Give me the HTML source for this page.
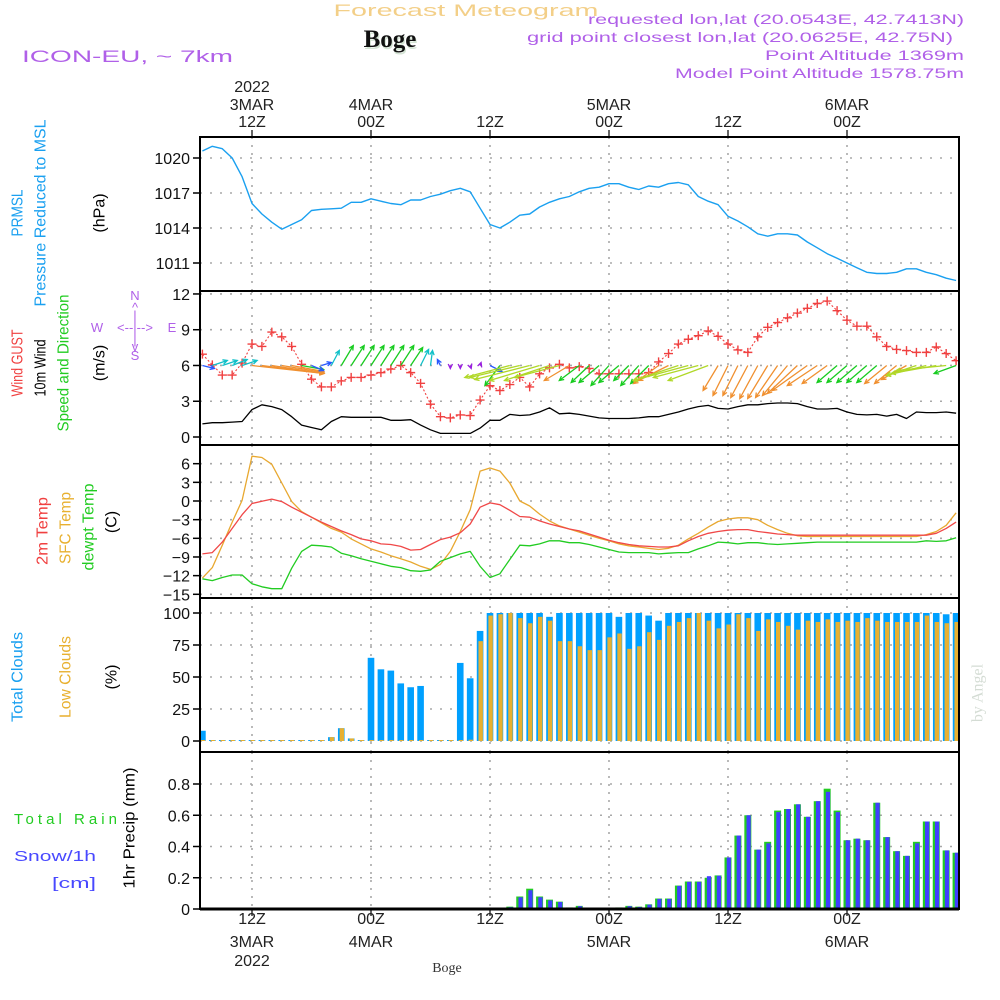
<!DOCTYPE html>
<html><head><meta charset="utf-8"><title>Meteogram Boge</title>
<style>
html,body{margin:0;padding:0;background:#fff;}
svg{display:block;font-family:"Liberation Sans",sans-serif;}
</style></head>
<body>
<svg id="chart" xmlns="http://www.w3.org/2000/svg" width="1000" height="1000" viewBox="0 0 1000 1000">
<rect x="0" y="0" width="1000" height="1000" fill="#fff"/>
<g id="grid"></g>
<g id="marks"></g>
<g id="frames"></g>
<g id="labels">
<text x="466" y="16" fill="#f3cf88" font-size="17" text-anchor="middle" textLength="265" lengthAdjust="spacingAndGlyphs">Forecast Meteogram</text>
<text x="391" y="49" fill="#d4e4d4" font-size="25" font-weight="bold" font-family="Liberation Serif, serif" text-anchor="middle">Boge</text>
<text x="390" y="47" fill="#111" font-size="25" font-weight="bold" font-family="Liberation Serif, serif" text-anchor="middle">Boge</text>
<text x="964" y="24" fill="#b060e8" font-size="14" text-anchor="end" textLength="376" lengthAdjust="spacingAndGlyphs">requested lon,lat (20.0543E, 42.7413N)</text>
<text x="953" y="42" fill="#b060e8" font-size="14" text-anchor="end" textLength="426" lengthAdjust="spacingAndGlyphs">grid point closest lon,lat (20.0625E, 42.75N)</text>
<text x="964" y="60" fill="#b060e8" font-size="14" text-anchor="end" textLength="199" lengthAdjust="spacingAndGlyphs">Point Altitude 1369m</text>
<text x="964" y="78" fill="#b060e8" font-size="14" text-anchor="end" textLength="289" lengthAdjust="spacingAndGlyphs">Model Point Altitude 1578.75m</text>
<text x="22" y="62" fill="#b060e8" font-size="17" textLength="211" lengthAdjust="spacingAndGlyphs">ICON-EU, ~ 7km</text>

<text transform="translate(18,213) rotate(-90)" fill="#1aa0f0" font-size="16" text-anchor="middle" dominant-baseline="central" textLength="47" lengthAdjust="spacingAndGlyphs">PRMSL</text>
<text transform="translate(41,213) rotate(-90)" fill="#1aa0f0" font-size="16" text-anchor="middle" dominant-baseline="central" textLength="187" lengthAdjust="spacingAndGlyphs">Pressure Reduced to MSL</text>
<text transform="translate(100,213) rotate(-90)" fill="#000" font-size="16" text-anchor="middle" dominant-baseline="central">(hPa)</text>

<text transform="translate(18,363) rotate(-90)" fill="#f04040" font-size="16" text-anchor="middle" dominant-baseline="central" textLength="67" lengthAdjust="spacingAndGlyphs">Wind GUST</text>
<text transform="translate(41,368) rotate(-90)" fill="#000" font-size="16" text-anchor="middle" dominant-baseline="central" textLength="57" lengthAdjust="spacingAndGlyphs">10m Wind</text>
<text transform="translate(64,363) rotate(-90)" fill="#22cc22" font-size="16" text-anchor="middle" dominant-baseline="central" textLength="137" lengthAdjust="spacingAndGlyphs">Speed and Direction</text>
<text transform="translate(100,363) rotate(-90)" fill="#000" font-size="16" text-anchor="middle" dominant-baseline="central">(m/s)</text>
<g fill="#b060e8" font-size="13" text-anchor="middle">
<text x="135" y="300">N</text><text x="135" y="312">^</text><text x="135" y="320">|</text>
<text x="97" y="332">W</text><text x="135" y="332">&lt;--|--&gt;</text><text x="172" y="332">E</text>
<text x="135" y="344">|</text><text x="135" y="351">v</text><text x="135" y="360">S</text>
</g>

<text transform="translate(43,531) rotate(-90)" fill="#f04040" font-size="16" text-anchor="middle" dominant-baseline="central" textLength="68" lengthAdjust="spacingAndGlyphs">2m Temp</text>
<text transform="translate(66,528) rotate(-90)" fill="#e8b030" font-size="16" text-anchor="middle" dominant-baseline="central" textLength="72" lengthAdjust="spacingAndGlyphs">SFC Temp</text>
<text transform="translate(89,527) rotate(-90)" fill="#22cc22" font-size="16" text-anchor="middle" dominant-baseline="central" textLength="87" lengthAdjust="spacingAndGlyphs">dewpt Temp</text>
<text transform="translate(112,522) rotate(-90)" fill="#000" font-size="16" text-anchor="middle" dominant-baseline="central">(C)</text>

<text transform="translate(18,677) rotate(-90)" fill="#1aa0f0" font-size="16" text-anchor="middle" dominant-baseline="central" textLength="90" lengthAdjust="spacingAndGlyphs">Total Clouds</text>
<text transform="translate(66,677) rotate(-90)" fill="#e8b030" font-size="16" text-anchor="middle" dominant-baseline="central" textLength="82" lengthAdjust="spacingAndGlyphs">Low Clouds</text>
<text transform="translate(112,677) rotate(-90)" fill="#000" font-size="16" text-anchor="middle" dominant-baseline="central">(%)</text>

<text x="14" y="824" fill="#22cc22" font-size="15" textLength="103" lengthAdjust="spacing">Total   Rain</text>
<text x="14" y="861" fill="#4848ff" font-size="15" textLength="82" lengthAdjust="spacingAndGlyphs">Snow/1h</text>
<text x="52" y="888" fill="#4848ff" font-size="15" textLength="44" lengthAdjust="spacingAndGlyphs">[cm]</text>
<text transform="translate(130,828) rotate(-90)" fill="#000" font-size="16" text-anchor="middle" dominant-baseline="central" textLength="121" lengthAdjust="spacingAndGlyphs">1hr Precip (mm)</text>

<text x="447" y="972" fill="#333" font-size="14" font-family="Liberation Serif, serif" text-anchor="middle">Boge</text>
<text transform="translate(978,693) rotate(-90)" fill="#d4dcd4" font-size="16" font-family="Liberation Serif, serif" text-anchor="middle" dominant-baseline="central">by Angel</text>
</g>
</svg>
<script>
const startHour = 7;
const pressure = [
1020.6,1021.0,1020.8,1020.0,1018.4,1016.1,1015.2,1014.5,1013.9,1014.3,
1014.7,1015.5,1015.6,1015.65,1015.7,1016.2,1016.2,1016.5,1016.3,1016.1,
1016.0,1016.4,1016.4,1016.7,1016.9,1017.2,1017.4,1017.1,1015.7,1014.3,
1014.0,1014.5,1015.1,1015.2,1015.8,1016.2,1016.5,1016.7,1017.1,1017.4,
1017.5,1017.8,1017.8,1017.5,1017.3,1017.6,1017.5,1017.8,1017.9,1017.7,
1016.7,1016.3,1016.0,1015.0,1014.6,1014.1,1013.5,1013.3,1013.5,1013.5,
1013.4,1012.8,1012.3,1011.8,1011.4,1011.0,1010.6,1010.2,1010.1,1010.1,
1010.2,1010.5,1010.5,1010.2,1010.0,1009.7,1009.5];
const wind10m = [
1.1,1.2,1.2,1.25,1.3,2.3,2.7,2.55,2.3,1.7,
1.0,0.8,0.6,1.3,1.7,1.65,1.65,1.65,1.65,1.4,
1.4,1.45,1.0,0.6,0.3,0.3,0.3,0.3,0.75,1.4,
1.4,1.9,1.8,1.85,2.1,2.45,1.95,2.0,1.9,1.75,
1.6,1.55,1.55,1.55,1.6,1.7,1.7,1.9,2.1,2.35,
2.55,2.65,2.4,2.35,2.55,2.7,2.7,2.8,2.85,2.85,
2.8,2.55,2.35,2.35,2.4,2.1,1.9,1.85,1.9,1.75,
1.9,1.55,2.1,2.05,2.05,2.1,2.0];
const gust = [
6.95,6.05,5.2,5.2,6.2,7.8,7.6,8.8,8.4,7.6,
6.1,4.85,4.2,4.2,4.7,5.0,5.0,5.2,5.4,5.7,
6.0,5.4,4.5,2.75,1.7,1.6,1.85,1.8,3.1,4.3,
3.9,4.4,5.0,4.2,5.3,5.8,6.1,5.8,5.9,5.75,
5.3,5.3,5.3,5.3,5.3,5.4,6.3,7.0,7.8,8.2,
8.5,8.9,8.45,7.8,7.3,7.1,8.4,9.2,9.6,10.0,
10.4,10.8,11.2,11.4,10.6,9.8,9.3,9.3,8.4,7.6,
7.35,7.25,7.1,7.1,7.55,7.0,6.4];
const windU = [
1.2,1.5,1.5,1.5,1.5,7.2,6.2,5.2,4.2,3.2,
2.2,1.2,1.0,0.8,1.2,1.3,1.3,1.3,1.3,1.3,
1.3,1.2,0.8,0.2,-0.3,0,0,0.1,0.1,1.2,
-1.5,-4.5,-5.0,-5.5,-5.0,-4.5,-4.5,-2.5,-2.0,-1.8,
-2.0,-1.8,-2.0,-1.5,-1.8,-1.8,-2.5,-3.0,-4.5,-5.5,
-4.5,-4.0,-1.5,-1.5,-1.5,-1.7,-1.8,-2.0,-2.2,-2.5,
-3.0,-3.5,-3.0,-2.5,-2.0,-2.0,-2.0,-2.0,-2.0,-2.2,
-2.2,-2.5,-3.0,-4.0,-4.5,-5.0,-2.2];
const windV = [
-0.3,0.5,0.5,0.6,0.5,-0.8,-0.8,-0.8,-0.7,-0.6,
-0.4,-0.5,0.3,1.5,2.0,2.0,2.0,2.0,2.0,2.0,
2.0,1.8,1.6,1.5,0.6,-0.3,-0.3,-0.3,0.3,-0.6,
-2.0,-1.2,-1.2,-1.4,-1.5,-1.5,-1.2,-1.5,-1.5,-1.7,
-1.7,-2.0,-1.7,-1.5,-2.0,-1.8,-1.8,-1.5,-1.5,-1.5,
-1.2,-1.5,-2.5,-3.0,-3.0,-3.2,-3.3,-3.3,-3.2,-3.0,
-2.8,-2.5,-2.0,-1.8,-1.7,-1.7,-1.7,-1.7,-1.7,-1.8,
-1.8,-1.4,-1.0,-1.0,-0.8,-0.5,-0.8];
const temp2m = [
-8.5,-8.3,-6.6,-4.4,-2.2,-0.4,-0.05,0.3,-0.1,-1.0,
-1.8,-2.6,-3.4,-4.1,-4.8,-5.4,-6.1,-6.4,-6.9,-7.0,
-7.3,-7.9,-7.8,-7.0,-6.2,-5.8,-5.1,-3.7,-1.0,-0.3,
-0.6,-1.5,-2.5,-2.6,-3.2,-3.7,-4.1,-4.5,-4.8,-5.3,
-5.8,-6.3,-6.7,-7.0,-7.2,-7.3,-7.4,-7.4,-7.2,-6.4,
-5.7,-5.2,-4.9,-4.7,-4.6,-4.6,-4.9,-5.1,-5.3,-5.4,
-5.5,-5.5,-5.5,-5.5,-5.5,-5.5,-5.5,-5.5,-5.5,-5.5,
-5.5,-5.5,-5.5,-5.5,-5.2,-4.4,-3.4];
const sfcTemp = [
-12.4,-10.7,-7.1,-3.4,0.1,7.2,7.0,5.9,2.9,-0.1,
-1.7,-2.6,-3.5,-4.4,-5.0,-6.1,-6.9,-7.7,-8.2,-8.8,
-9.3,-9.8,-10.5,-11.0,-10.2,-8.1,-4.9,-1.4,4.8,5.3,
4.8,2.9,0,-0.8,-2.1,-3.2,-4.0,-4.5,-5.0,-5.5,
-6.0,-6.4,-6.9,-7.2,-7.4,-7.6,-7.8,-7.6,-7.1,-6.1,
-5.2,-4.2,-3.3,-2.9,-2.7,-2.7,-3.0,-3.9,-4.6,-5.2,
-5.6,-5.7,-5.7,-5.7,-5.7,-5.7,-5.7,-5.7,-5.7,-5.7,
-5.7,-5.7,-5.7,-5.4,-4.9,-3.9,-1.9];
const dewpt = [
-12.5,-12.8,-12.3,-11.9,-11.9,-13.3,-13.8,-14.1,-14.1,-10.8,
-8.1,-7.1,-7.2,-7.4,-8.4,-8.8,-9.3,-9.7,-10.1,-10.5,
-10.7,-11.2,-11.3,-11.1,-9.7,-9.1,-8.5,-8.1,-10.5,-12.3,
-11.7,-9.4,-7.1,-7.2,-6.9,-6.4,-6.4,-6.7,-6.7,-7.0,
-7.4,-7.8,-8.2,-8.3,-8.3,-8.3,-8.5,-8.4,-8.3,-8.3,
-7.7,-7.2,-6.6,-6.7,-6.9,-6.7,-6.7,-6.9,-7.0,-6.9,
-6.8,-6.7,-6.6,-6.6,-6.6,-6.6,-6.6,-6.6,-6.6,-6.6,
-6.6,-6.6,-6.6,-6.4,-6.5,-6.4,-5.9];
const totalClouds = [
8,0,0,0,0,0,0,0,0,0,
0,0,0,3,10,2,0.5,65,56,55,
45,42,43,0,0,0,61,49,86,100,
100,100,100,100,100,97,100,100,100,100,
100,100,97,100,100,98,94,100,100,100,
100,100,100,100,100,100,100,100,100,100,
100,100,100,100,100,100,100,100,100,100,
100,100,100,100,100,99,100];
const lowClouds = [
0,0,0,0,0,0,0,0,0,0,
0,0,0,3,10,2,0,0,0,0,
0,0,0,0,0,0,0,1,78,98,
99,100,96,92,97,94,78,78,74,71,
71,81,84,72,74,85,79,90,93,96,
100,94,88,91,99,96,86,95,93,90,
87,94,93,95,93,94,93,96,94,93,
93,93,93,98,93,92,93];
const totalPrecip = [
0,0,0,0,0,0,0,0,0,0,
0,0,0,0,0,0,0,0,0,0,
0,0,0,0,0,0,0,0,0,0,
0,0.015,0.08,0.13,0.08,0.06,0.047,0.01,0.02,0.003,
0,0,0.01,0.02,0.015,0.03,0.067,0.067,0.15,0.176,
0.176,0.2,0.215,0.33,0.47,0.60,0.38,0.43,0.63,0.64,
0.67,0.59,0.69,0.77,0.63,0.44,0.45,0.44,0.68,0.46,
0.37,0.34,0.43,0.56,0.56,0.375,0.36];
const snowPrecip = [
0,0,0,0,0,0,0,0,0,0,
0,0,0,0,0,0,0,0,0,0,
0,0,0,0,0,0,0,0,0,0,
0,0.012,0.075,0.12,0.075,0.055,0.045,0.008,0.018,0.003,
0,0,0.008,0.018,0.013,0.028,0.065,0.065,0.148,0.174,
0.174,0.21,0.213,0.33,0.47,0.60,0.38,0.42,0.62,0.64,
0.67,0.59,0.69,0.75,0.62,0.44,0.45,0.44,0.68,0.46,
0.37,0.34,0.42,0.56,0.56,0.375,0.36];
const pressureTicks = [1011,1014,1017,1020];
const windTicks = [0,3,6,9,12];
const tempTicks = [-15,-12,-9,-6,-3,0,3,6];
const cloudTicks = [0,25,50,75,100];
const precipTicks = [0,0.2,0.4,0.6,0.8];
const timeTicks = [12,24,36,48,60,72];
const topLabels = [["2022","3MAR","12Z"],["","4MAR","00Z"],["","","12Z"],["","5MAR","00Z"],["","","12Z"],["","6MAR","00Z"]];
const bottomLabels = [["12Z","3MAR","2022"],["00Z","4MAR",""],["12Z","",""],["00Z","5MAR",""],["12Z","",""],["00Z","6MAR",""]];

const NS = "http://www.w3.org/2000/svg";
const L = 200, R = 959;
function xT(t){ return 371 + (t - 24) * 119 / 12; }
function yP(p){ return 158 + (1020 - p) * 35 / 3; }
function yW(v){ return 437 - v * 11.92; }
function yTe(c){ return 501 - c * 6.22; }
function yC(c){ return 741 - c * 1.28; }
function yR(m){ return 909 - m * 156.25; }
function el(tag, attrs, parent){
  const e = document.createElementNS(NS, tag);
  for (const k in attrs) e.setAttribute(k, attrs[k]);
  parent.appendChild(e);
  return e;
}
const grid = document.getElementById('grid');
const marks = document.getElementById('marks');
const frames = document.getElementById('frames');
const labels = document.getElementById('labels');

const panels = [
  {top:137, bot:291, ticks:pressureTicks, f:yP, name:'pressure', fmt:v=>String(v)},
  {top:291, bot:445, ticks:windTicks, f:yW, name:'wind', fmt:v=>String(v)},
  {top:445, bot:598, ticks:tempTicks, f:yTe, name:'temp', fmt:v=>(v<0?'\u2212'+(-v):String(v))},
  {top:598, bot:752, ticks:cloudTicks, f:yC, name:'cloud', fmt:v=>String(v)},
  {top:752, bot:909, ticks:precipTicks, f:yR, name:'precip', fmt:v=>(v===0?'0':v.toFixed(1))}
];
panels.forEach(p => {
  p.ticks.forEach(v => {
    const y = p.f(v);
    const g = el('line', {x1:L, x2:R, y1:y, y2:y, stroke:'#a8a8a8', 'stroke-width':1.6, 'stroke-dasharray':'2 8'}, grid);
    
    
    const tk = el('line', {x1:193, x2:L, y1:y, y2:y, stroke:'#000', 'stroke-width':1.5}, frames);
    
    
    const tx = el('text', {x:190, y:y+6, 'font-size':16, 'text-anchor':'end', fill:'#111'}, labels);
    tx.textContent = p.fmt(v);
    
    
  });
  timeTicks.forEach(t => {
    const x = xT(t);
    const g = el('line', {x1:x, x2:x, y1:p.top, y2:p.bot, stroke:'#a8a8a8', 'stroke-width':1.6, 'stroke-dasharray':'2 6'}, grid);
    
    
  });
});
timeTicks.forEach((t, i) => {
  const x = xT(t);
  const a = el('line', {x1:x, x2:x, y1:130, y2:137, stroke:'#000', 'stroke-width':1.2}, frames);
  
  
  const b = el('line', {x1:x, x2:x, y1:909, y2:916, stroke:'#000', 'stroke-width':1.2}, frames);
  
  
  [92, 110, 127].forEach((y, j) => {
    if (!topLabels[i][j]) return;
    const tx = el('text', {x:x, y:y, 'font-size':16, 'text-anchor':'middle', fill:'#222'}, labels);
    tx.textContent = topLabels[i][j];
    
    
  });
  [924, 947, 966].forEach((y, j) => {
    if (!bottomLabels[i][j]) return;
    const tx = el('text', {x:x, y:y, 'font-size':16, 'text-anchor':'middle', fill:'#222'}, labels);
    tx.textContent = bottomLabels[i][j];
    
    
  });
});

function clipRect(id, top, bot){
  const defs = document.getElementById('defs') || el('defs', {id:'defs'}, document.getElementById('chart'));
  const cp = el('clipPath', {id:id}, defs);
  el('rect', {x:L, y:top, width:R-L, height:bot-top}, cp);
}
clipRect('c1',137,291); clipRect('c2',291,445); clipRect('c3',445,598); clipRect('c4',598,752); clipRect('c5',752,909);

function line(arr, fy, color, name, clip, w, dash){
  const pts = arr.map((v, i) => xT(startHour + i).toFixed(1) + ',' + fy(v).toFixed(1)).join(' ');
  const pl = el('polyline', {points:pts, fill:'none', stroke:color, 'stroke-width':w||1.3, 'clip-path':'url(#'+clip+')', 'stroke-linejoin':'round'}, marks);
  if (dash) pl.setAttribute('stroke-dasharray', dash);
  
  
}
line(pressure, yP, '#1aa0f0', 'pressure-line', 'c1', 1.4);
line(wind10m, yW, '#000', 'wind10m-line', 'c2', 1.3);
line(gust, yW, '#f04040', 'gust-line', 'c2', 1.1, '2 2');
const gG = el('g', {stroke:'#f04040', 'stroke-width':1.4, 'clip-path':'url(#c2)'}, marks);


gust.forEach((v, i) => {
  const x = xT(startHour + i), y = yW(v);
  const c = el('path', {d:'M'+(x-4.5)+','+y+'h9M'+x+','+(y-4.5)+'v9', fill:'none'}, gG);
  
  
});
function arrowColor(u, v){
  const m = Math.hypot(u, v);
  if (m < 0.5) return '#9a20e0';
  if (m < 1.4) return '#2858ff';
  if (m < 1.95) return '#10c0c8';
  if (m < 2.8) return '#18cc20';
  if (u < 0 && Math.abs(v) < 0.45 * Math.abs(u)) return '#b0d828';
  return '#f09030';
}
const aG = el('g', {'clip-path':'url(#c2)', fill:'none', 'stroke-width':1.3}, marks);


windU.forEach((u, i) => {
  const v = windV[i];
  const x0 = xT(startHour + i), y0 = yW(6);
  const x1 = x0 + u * 10, y1 = y0 - v * 10;
  const ang = Math.atan2(y1 - y0, x1 - x0);
  const hs = 5;
  const hx1 = x1 - hs * Math.cos(ang - 0.45), hy1 = y1 - hs * Math.sin(ang - 0.45);
  const hx2 = x1 - hs * Math.cos(ang + 0.45), hy2 = y1 - hs * Math.sin(ang + 0.45);
  const a = el('path', {d:'M'+x0.toFixed(1)+','+y0.toFixed(1)+'L'+x1.toFixed(1)+','+y1.toFixed(1)+'M'+hx1.toFixed(1)+','+hy1.toFixed(1)+'L'+x1.toFixed(1)+','+y1.toFixed(1)+'L'+hx2.toFixed(1)+','+hy2.toFixed(1), stroke:arrowColor(u, v)}, aG);
  
  
});
line(sfcTemp, yTe, '#e8a830', 'sfc-temp-line', 'c3', 1.3);
line(temp2m, yTe, '#f04848', 'temp2m-line', 'c3', 1.3);
line(dewpt, yTe, '#22cc22', 'dewpt-line', 'c3', 1.3);
totalClouds.forEach((v, i) => {
  const x = xT(startHour + i);
  const y = yC(v), h = Math.max(1, yC(0) - y);
  const b = el('rect', {x:x-3.3, y:yC(0)-h, width:6.6, height:h, fill:'#00a0ff', 'clip-path':'url(#c4)'}, marks);
  
  
  const lv = lowClouds[i];
  const hl = Math.max(1, yC(0) - yC(lv));
  const o = el('rect', {x:x-1.6, y:yC(0)-hl, width:4.4, height:hl, fill:'#e8b030', 'clip-path':'url(#c4)'}, marks);
  
  
});
totalPrecip.forEach((v, i) => {
  const x = xT(startHour + i);
  if (v > 0) {
    const h = yR(0) - yR(v);
    const g = el('rect', {x:x-3.5, y:yR(0)-h, width:7, height:h, fill:'#22cc22', 'clip-path':'url(#c5)'}, marks);
    
    
  }
  const s = snowPrecip[i];
  if (s > 0) {
    const hs = Math.max(1, yR(0) - yR(s));
    const b = el('rect', {x:x-1.3, y:yR(0)-hs, width:4.2, height:hs, fill:'#4040ff', 'clip-path':'url(#c5)'}, marks);
    
    
  }
});
panels.forEach(p => {
  const r = el('rect', {x:L, y:p.top, width:R-L, height:p.bot-p.top, fill:'none', stroke:'#000', 'stroke-width':2}, frames);
  
  
});
const zl = el('line', {x1:L, x2:R, y1:909, y2:909, stroke:'#000', 'stroke-width':3}, frames);


</script>
</body></html>
